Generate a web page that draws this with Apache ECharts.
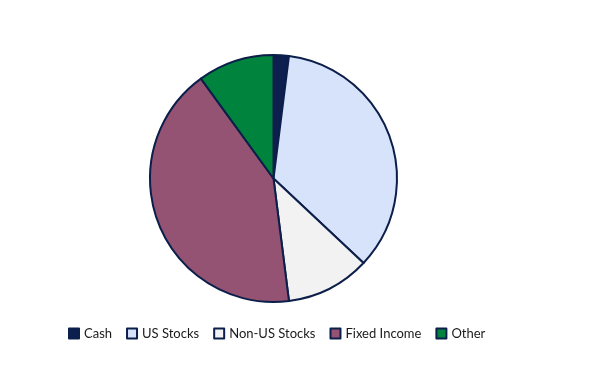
<!DOCTYPE html>
<html><head><meta charset="utf-8">
<script src="https://cdn.jsdelivr.net/npm/echarts@6/dist/echarts.min.js"></script>
<style>html,body{margin:0;padding:0;background:#fff}#c{width:589px;height:366px}</style>
</head><body><div id="c"></div>
<script>
const categories = ["Cash", "US Stocks", "Non-US Stocks", "Fixed Income", "Other"];
const values = [2, 35, 11, 42, 10];
const colors = ["#0c1f4f", "#d7e2fb", "#f2f2f2", "#955373", "#00843d"];

const chart = echarts.init(document.getElementById('c'), null, {renderer: 'canvas'});
chart.setOption({
  animation: false,
  backgroundColor: '#ffffff',
  legend: {
    top: 322,
    left: 63,
    itemWidth: 10,
    itemHeight: 10,
    itemGap: 14,
    icon: 'rect',
    textStyle: {fontFamily: 'Lato', fontSize: 13, color: '#1a1a1a'},
    data: categories
  },
  series: [{
    type: 'pie',
    center: [273.5, 178.5],
    radius: [0, 123.5],
    startAngle: 90,
    clockwise: true,
    label: {show: false},
    labelLine: {show: false},
    itemStyle: {borderColor: '#0c1e4a', borderWidth: 2},
    data: categories.map((c, i) => ({name: c, value: values[i], itemStyle: {color: colors[i]}}))
  }]
});
</script></body></html>
